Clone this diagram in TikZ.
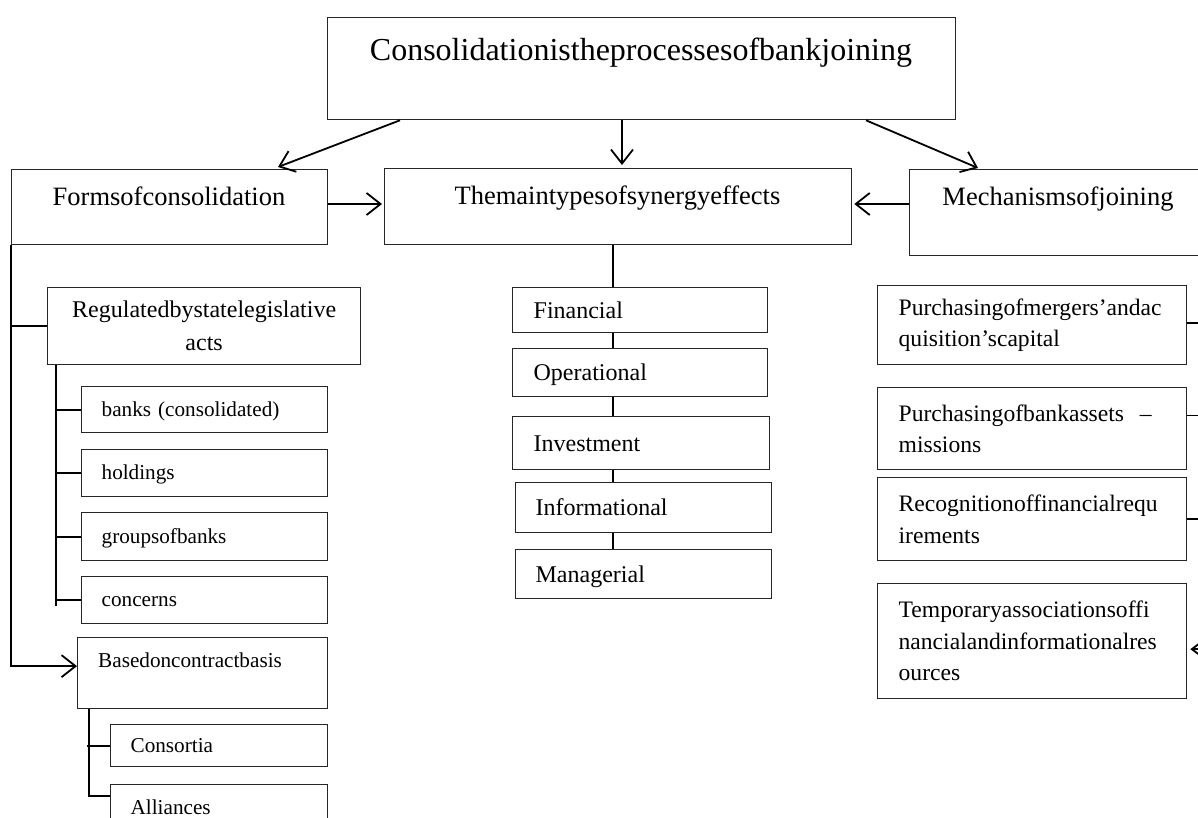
\documentclass[tikz,border=0pt]{standalone}
\usepackage{fontspec}
\setmainfont{Liberation Serif}
\usetikzlibrary{arrows.meta,calc}
\begin{document}
\begin{tikzpicture}[x=1pt,y=-1pt,
  box/.style={draw=black!85, line width=1.3pt, inner sep=0pt, anchor=north west},
  conn/.style={line width=1.8pt},
  thinconn/.style={line width=1.4pt},
  arr/.style={line width=1.8pt, -{Straight Barb[length=14pt,width=22pt,line width=1.8pt]}},
  smallarr/.style={line width=1.8pt, -{Straight Barb[length=8pt,width=12pt,line width=1.8pt]}},
  big/.style={font=\fontsize{32}{38}\selectfont},
  mid/.style={font=\fontsize{26.5}{32}\selectfont},
  med/.style={font=\fontsize{24}{33}\selectfont},
  rt/.style={font=\fontsize{23.6}{31.5}\selectfont},
  sm/.style={font=\fontsize{21.2}{26}\selectfont},
  lab/.style={inner sep=0pt},
  smbox/.style={box, sm, align=left, text height=15.5pt, text depth=2.5pt},
  medbox/.style={box, med, align=left, text height=18pt, text depth=2pt}
]
\useasboundingbox (0,0) rectangle (1198,818);
\clip (0,0) rectangle (1198,818);
\fill[white] (0,0) rectangle (1198,818);

% top level
\node[box, minimum width=628pt, minimum height=102pt] (top) at (327,17) {};
\node[big, lab, anchor=base] (topT) at (641,61) {Consolidationistheprocessesofbankjoining};

\node[box, minimum width=316pt, minimum height=75pt] (forms) at (11,169) {};
\node[mid, lab, anchor=base] (formsT) at (169,206) {Formsofconsolidation};

\node[box, minimum width=467pt, minimum height=76pt] (syn) at (384,168) {};
\node[mid, lab, anchor=base] (synT) at (617.5,205) {Themaintypesofsynergyeffects};

\node[box, minimum width=300pt, minimum height=86pt] (mech) at (909,169) {};
\node[mid, lab, anchor=base] (mechT) at (1058,206) {Mechanismsofjoining};

\draw[arr] ($(top.south west)+(73,0)$) -- ($(forms.north west)+(267,-2)$);
\draw[arr] ($(top.south west)+(295,0)$) -- ($(syn.north west)+(238,-3)$);
\draw[arr] ($(top.south west)+(539,0)$) -- ($(mech.north west)+(69,-1)$);
\draw[arr] ($(forms.north east)+(0,35)$) -- ($(syn.north west)+(-2,36)$);
\draw[arr] ($(mech.north west)+(0,35)$) -- ($(syn.north east)+(2,36)$);

% left column
\node[box, med, align=center, minimum width=313pt, minimum height=77pt] (reg) at (47,287) {Regulatedbystatelegislative\\acts};
\node[smbox, inner xsep=20pt, text width=206pt, minimum height=46pt] (banks) at (81,386) {banks (consolidated)};
\node[smbox, inner xsep=20pt, text width=206pt, minimum height=47pt] (holdings) at (81,449) {holdings};
\node[smbox, inner xsep=20pt, text width=206pt, minimum height=48pt] (groups) at (81,512) {groupsofbanks};
\node[smbox, inner xsep=20pt, text width=206pt, minimum height=47pt] (concerns) at (81,576) {concerns};
\node[box, minimum width=250pt, minimum height=71pt] (based) at (77,637) {};
\node[sm, lab, anchor=base west] (basedT) at (98,667) {Basedoncontractbasis};
\node[smbox, inner xsep=20pt, text width=177pt, minimum height=42pt] (cons) at (110,724) {Consortia};
\node[smbox, inner xsep=20pt, text width=177pt, minimum height=46pt] (alli) at (110,784) {Alliances};

\draw[arr] (forms.south west) |- ($(based.west)+(0,-7)$);
\draw[conn] (forms.south west |- reg.west) -- (reg.west);

\coordinate (s1) at ($(reg.south west)+(9,0)$);
\draw[conn] (s1) -- ($(s1 |- concerns.west)+(0,6)$);
\foreach \n in {banks,holdings,groups,concerns}
  \draw[conn] (s1 |- \n.west) -- (\n.west);

\coordinate (s2) at ($(based.south west)+(12,0)$);
\draw[conn] (s2) |- ($(alli.north west)+(0,12)$);
\draw[conn] ($(s2 |- cons.west)+(-2,0)$) -- (cons.west);

% middle column
\node[medbox, inner xsep=21pt, text width=213pt, minimum height=45pt] (fin) at (512,287) {Financial};
\node[medbox, inner xsep=21pt, text width=213pt, minimum height=48pt] (oper) at (512,348) {Operational};
\node[medbox, inner xsep=21pt, text width=215pt, minimum height=53pt] (inv) at (512,416) {Investment};
\node[medbox, inner xsep=20pt, text width=216pt, minimum height=50pt] (info) at (515,482) {Informational};
\node[medbox, inner xsep=20pt, text width=216pt, minimum height=49pt] (man) at (515,549) {Managerial};

\coordinate (mx) at (613,0);
\draw[thinconn] (mx |- syn.south) -- (mx |- fin.north);
\draw[thinconn] (mx |- fin.south) -- (mx |- oper.north);
\draw[thinconn] (mx |- oper.south) -- (mx |- inv.north);
\draw[thinconn] (mx |- inv.south) -- (mx |- info.north);
\draw[thinconn] (mx |- info.south) -- (mx |- man.north);

% right column
\node[box, rt, align=left, inner xsep=21pt, text width=267pt, minimum height=79pt] (pm) at (877,285) {Purchasingofmergers’andac\\quisition’scapital};
\node[box, rt, align=left, inner xsep=21pt, text width=267pt, minimum height=82pt] (pb) at (877,387) {Purchasingofbankassets~~–\\missions};
\node[box, rt, align=left, inner xsep=21pt, text width=267pt, minimum height=83pt] (rf) at (877,477) {Recognitionoffinancialrequ\\irements};
\node[box, rt, align=left, inner xsep=21pt, text width=267pt, minimum height=115pt] (ta) at (877,583) {Temporaryassociationsoffi\\nancialandinformationalres\\ources};

\coordinate (edge) at (1215,0);
\draw[thinconn] ($(pm.east)+(0,-2)$) -- ($(edge |- pm.east)+(0,-2)$);
\draw[thinconn] ($(pb.east)+(0,-13)$) -- ($(edge |- pb.east)+(0,-13)$);
\draw[thinconn] (rf.east) -- (edge |- rf.east);
\draw[smallarr] ($(edge |- ta.east)+(0,8)$) -- ($(ta.east)+(3,8)$);
\end{tikzpicture}
\end{document}
